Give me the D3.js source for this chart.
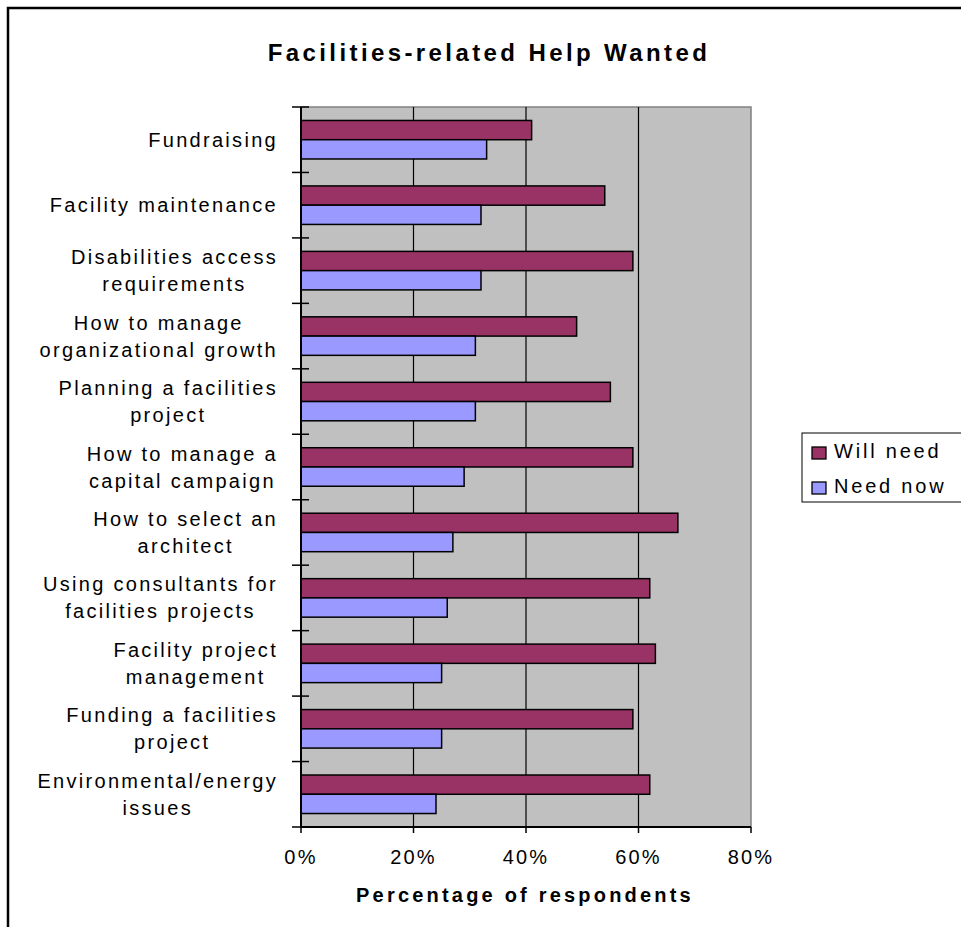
<!DOCTYPE html>
<html><head><meta charset="utf-8">
<script src="https://cdn.jsdelivr.net/npm/d3@7"></script>
<style>body{margin:0;background:#fff}svg{display:block}text{font-family:"Liberation Sans",Arial,sans-serif}</style>
</head><body>
<script>
const categories = [
  "Fundraising",
  "Facility maintenance",
  "Disabilities access\nrequirements",
  "How to manage\norganizational growth",
  "Planning a facilities\nproject",
  "How to manage a\ncapital campaign",
  "How to select an\narchitect",
  "Using consultants for\nfacilities projects",
  "Facility project\nmanagement",
  "Funding a facilities\nproject",
  "Environmental/energy\nissues"
];
const seriesNames = ["Will need", "Need now"];
const willNeed = [41, 54, 59, 49, 55, 59, 67, 62, 63, 59, 62];
const needNow  = [33, 32, 32, 31, 31, 29, 27, 26, 25, 25, 24];
const xTicks = [0, 20, 40, 60, 80];
const colors = ["#993366", "#9999ff"];

const W = 961, H = 927;
const svg = d3.select("body").append("svg").attr("width", W).attr("height", H);

// outer frame
svg.append("rect").attr("x", 8).attr("y", 8).attr("width", 1200).attr("height", 1200)
  .attr("fill", "none").attr("stroke", "#000").attr("stroke-width", 2.5);

const L = 301, R = 751, T = 107, B = 827;
const x = d3.scaleLinear().domain([0, 80]).range([L, R]);
const y = d3.scaleBand().domain(categories).range([T, B]).padding(0);
const ys = d3.scaleBand().domain(seriesNames).range([0, y.bandwidth()]).paddingInner(0).paddingOuter(0.7);

// plot background
svg.append("rect").attr("x", L).attr("y", T).attr("width", R - L).attr("height", B - T)
  .attr("fill", "#c0c0c0").attr("stroke", "#808080").attr("stroke-width", 1.5);

// gridlines
svg.append("g").selectAll("line").data(xTicks.filter(t => t > 0 && t < 80)).join("line")
  .attr("x1", d => x(d)).attr("x2", d => x(d)).attr("y1", T).attr("y2", B)
  .attr("stroke", "#000").attr("stroke-width", 1.2);

// bars
const data = [];
categories.forEach((c, i) => {
  data.push({c, s: seriesNames[0], v: willNeed[i], col: colors[0]});
  data.push({c, s: seriesNames[1], v: needNow[i], col: colors[1]});
});
svg.append("g").selectAll("rect").data(data).join("rect")
  .attr("x", x(0)).attr("y", d => y(d.c) + ys(d.s))
  .attr("width", d => x(d.v) - x(0)).attr("height", ys.bandwidth())
  .attr("fill", d => d.col).attr("stroke", "#000").attr("stroke-width", 1.5);

// y axis line + ticks
svg.append("line").attr("x1", L).attr("x2", L).attr("y1", T).attr("y2", B)
  .attr("stroke", "#000").attr("stroke-width", 2);
const yTickPos = categories.map(c => y(c)).concat([B]);
svg.append("g").selectAll("line").data(yTickPos).join("line")
  .attr("x1", L - 9).attr("x2", L + 8).attr("y1", d => d).attr("y2", d => d)
  .attr("stroke", "#000").attr("stroke-width", 1.5);

// x axis line + ticks
svg.append("line").attr("x1", L).attr("x2", R).attr("y1", B).attr("y2", B)
  .attr("stroke", "#000").attr("stroke-width", 2);
svg.append("g").selectAll("line").data(xTicks).join("line")
  .attr("x1", d => x(d)).attr("x2", d => x(d)).attr("y1", B).attr("y2", B + 6)
  .attr("stroke", "#000").attr("stroke-width", 1.5);
svg.append("g").selectAll("text").data(xTicks).join("text")
  .attr("x", d => x(d)).attr("y", 864).attr("text-anchor", "middle")
  .attr("font-size", 20).attr("letter-spacing", 2.2).attr("fill", "#000")
  .text(d => d + "%");

// category labels
const lblG = svg.append("g");
categories.forEach(c => {
  const lines = c.split("\n");
  const cy = y(c) + y.bandwidth() / 2;
  const lh = 27;
  const t = lblG.append("text").attr("font-size", 20).attr("letter-spacing", 2.3)
    .attr("fill", "#000").attr("text-anchor", "middle");
  lines.forEach((ln, k) => {
    t.append("tspan").attr("x", 0)
      .attr("y", cy + (k - (lines.length - 1) / 2) * lh + 7).text(ln);
  });
  const bb = t.node().getBBox();
  t.attr("transform", `translate(${278 - (bb.x + bb.width)},0)`);
});

// title
svg.append("text").attr("x", 489).attr("y", 61).attr("text-anchor", "middle")
  .attr("font-size", 24).attr("font-weight", "bold").attr("letter-spacing", 3.4)
  .text("Facilities-related Help Wanted");

// x axis title
svg.append("text").attr("x", 525).attr("y", 902).attr("text-anchor", "middle")
  .attr("font-size", 20).attr("font-weight", "bold").attr("letter-spacing", 3.2)
  .text("Percentage of respondents");

// legend
svg.append("rect").attr("x", 802).attr("y", 433).attr("width", 200).attr("height", 69)
  .attr("fill", "#fff").attr("stroke", "#000").attr("stroke-width", 1);
const lg = svg.append("g").selectAll("g").data(seriesNames).join("g")
  .attr("transform", (d, i) => `translate(812,${447 + i * 35})`);
lg.append("rect").attr("width", 14).attr("height", 12)
  .attr("fill", (d, i) => colors[i]).attr("stroke", "#000").attr("stroke-width", 1.3);
lg.append("text").attr("x", 22).attr("y", 11).attr("font-size", 20).attr("letter-spacing", 2.8)
  .text(d => d);
</script>
</body></html>
